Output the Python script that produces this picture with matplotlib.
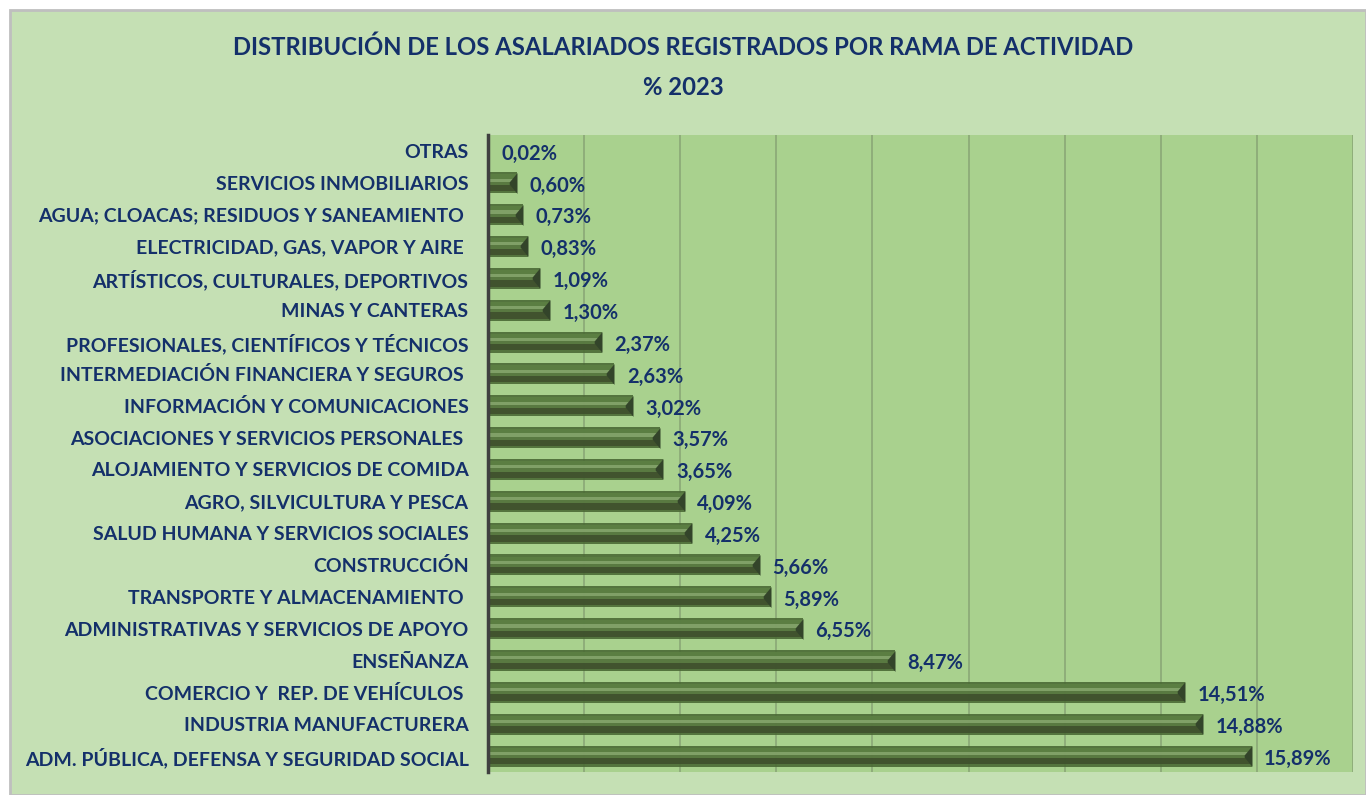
import numpy as np
import matplotlib.pyplot as plt
from matplotlib.patches import Rectangle
from matplotlib.path import Path

# Data (bottom to top)
ramas = [
    'ADM. PÚBLICA, DEFENSA Y SEGURIDAD SOCIAL',
    'INDUSTRIA MANUFACTURERA',
    'COMERCIO Y  REP. DE VEHÍCULOS ',
    'ENSEÑANZA',
    'ADMINISTRATIVAS Y SERVICIOS DE APOYO',
    'TRANSPORTE Y ALMACENAMIENTO ',
    'CONSTRUCCIÓN',
    'SALUD HUMANA Y SERVICIOS SOCIALES',
    'AGRO, SILVICULTURA Y PESCA',
    'ALOJAMIENTO Y SERVICIOS DE COMIDA',
    'ASOCIACIONES Y SERVICIOS PERSONALES ',
    'INFORMACIÓN Y COMUNICACIONES',
    'INTERMEDIACIÓN FINANCIERA Y SEGUROS ',
    'PROFESIONALES, CIENTÍFICOS Y TÉCNICOS',
    'MINAS Y CANTERAS',
    'ARTÍSTICOS, CULTURALES, DEPORTIVOS',
    'ELECTRICIDAD, GAS, VAPOR Y AIRE ',
    'AGUA; CLOACAS; RESIDUOS Y SANEAMIENTO ',
    'SERVICIOS INMOBILIARIOS',
    'OTRAS',
]
porcentajes = [15.89, 14.88, 14.51, 8.47, 6.55, 5.89, 5.66, 4.25, 4.09, 3.65,
               3.57, 3.02, 2.63, 2.37, 1.30, 1.09, 0.83, 0.73, 0.60, 0.02]

titulo = 'DISTRIBUCIÓN DE LOS ASALARIADOS REGISTRADOS POR RAMA DE ACTIVIDAD\n% 2023'

navy = '#14306a'
plt.rcParams['font.family'] = ['Lato', 'DejaVu Sans']

fig = plt.figure(figsize=(13.66, 7.95), dpi=100)
fig.patch.set_facecolor('white')
# chart background with gray border
fig.add_artist(Rectangle((10 / 1366, 0), 1 - 10 / 1366, 1 - 10 / 795,
                         transform=fig.transFigure, facecolor='#c5e0b4',
                         edgecolor='#bfbfbf', linewidth=2, zorder=-10))

ax = fig.add_axes([488 / 1366, 1 - 772 / 795, (1353 - 488) / 1366, (772 - 135) / 795])
ax.set_facecolor('#a9d18e')

y = np.arange(len(ramas))
h = 0.66
a = 0.9
# bevel look: layered horizontal stripes (top -> bottom)
stripes = [  # (top frac, bottom frac, colour)
    (0.00, 1.00, '#4b6a35'),
    (0.10, 0.30, '#5c8043'),
    (0.30, 0.45, '#86a56c'),
    (0.45, 0.60, '#5a7a42'),
    (0.60, 0.90, '#3f502d'),
]
for t, b, c in stripes:
    centre = h / 2 - (t + b) / 2 * h
    ax.barh(y + centre, porcentajes, height=(b - t) * h, color=c, alpha=a,
            linewidth=0, zorder=3)

# right-end chamfer
chamfer = Path([(0, 1), (-0.75, 0.1), (-0.75, -0.1), (0, -1), (0, 1)])
ax.plot(porcentajes, y, linestyle='none', marker=chamfer, markersize=15,
        markerfacecolor='#33442a', markeredgewidth=0, zorder=4)

for yi, v in zip(y, porcentajes):
    ax.annotate(f'{v:.2f}%'.replace('.', ','), (v, yi), xytext=(9, -2),
                textcoords='offset points', va='center', ha='left',
                fontsize=14.5, fontweight='bold', color=navy, zorder=6)

ax.set_xlim(0, 18)
ax.set_ylim(-0.5, len(ramas) - 0.5)
ax.set_xticks(np.arange(0, 19, 2))
ax.xaxis.grid(True, color='#8aa877', linewidth=1.2, zorder=0)
ax.set_axisbelow(True)
ax.tick_params(axis='x', length=0, labelbottom=False)
ax.tick_params(axis='y', length=0, pad=14)
ax.set_yticks(y)
ax.set_yticklabels(ramas, fontsize=14, fontweight='bold', color=navy)
for s in ['top', 'right', 'bottom']:
    ax.spines[s].set_visible(False)
ax.spines['left'].set_color('#404040')
ax.spines['left'].set_linewidth(2.5)
ax.spines['left'].set_zorder(5)

fig.text(683 / 1366, 1 - 67 / 795, titulo, ha='center', va='center',
         fontsize=17.2, fontweight='bold', color=navy, linespacing=1.9)

fig.savefig('out.png', dpi=100, facecolor=fig.get_facecolor())
